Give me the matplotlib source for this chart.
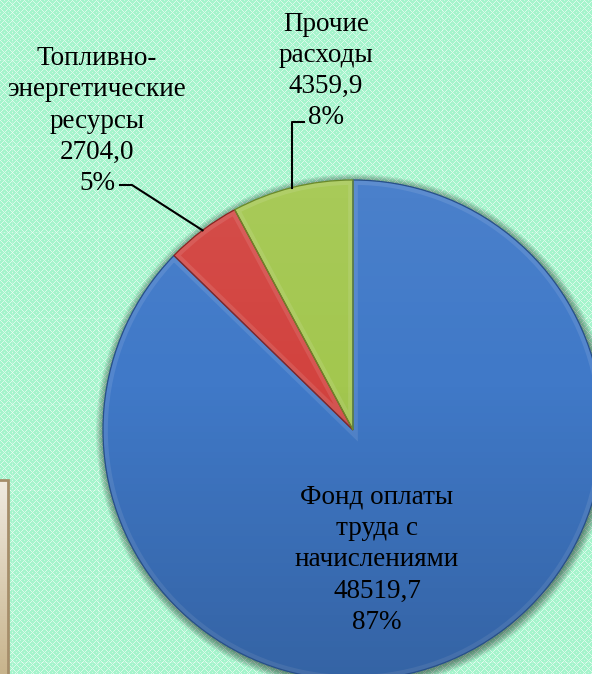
import numpy as np
import matplotlib
matplotlib.use("Agg")
import matplotlib.pyplot as plt
from matplotlib.patches import Circle, Rectangle, Wedge

# Cost structure, thousand roubles
labels = ["Фонд оплаты\nтруда с\nначислениями",
          "Топливно-\nэнергетические\nресурсы",
          "Прочие\nрасходы"]
values = [48519.7, 2704.0, 4359.9]
value_text = ["48519,7", "2704,0", "4359,9"]
colors = ["#4079c8", "#d2433f", "#a3c74f"]
edge_colors = ["#274f8a", "#8a2522", "#6b8a2a"]

W, H = 592, 674
plt.rcParams["font.family"] = ["Liberation Serif", "DejaVu Serif"]

fig = plt.figure(figsize=(W / 100, H / 100), dpi=100)
ax = fig.add_axes([0, 0, 1, 1])

# mint background with a white diagonal lattice
yy, xx = np.mgrid[0:H, 0:W]
d1 = (xx + yy) % 8
d2 = (xx - yy) % 8
lattice = ((d1 == 0) | (d2 == 0)).astype(float) * 0.6
lattice += ((d1 == 4) & (d2 == 4)).astype(float) * 0.4
seams = ((xx % 86 == 12) | (yy % 86 == 60)).astype(float) * 0.15
mix = np.clip(lattice + seams, 0, 1)[..., None]
mint = np.array([165, 244, 204]) / 255
bg = mint * (1 - mix) + mix
ax.imshow(bg, extent=[0, W, 0, H], origin="upper", zorder=0, interpolation="nearest")

# beige panel peeking in at the lower left
grad = np.linspace(0, 1, 200)[:, None, None]
top_c = np.array([240, 234, 224]) / 255
bot_c = np.array([200, 180, 140]) / 255
panel = top_c * (1 - grad) + bot_c * grad
panel = np.repeat(panel, 4, axis=1)
ax.imshow(panel, extent=[-4, 8, 0, H - 480], origin="upper", zorder=1, aspect="auto")
ax.add_patch(Rectangle((-4, -10), 12, H - 480 + 10, fill=False,
                       edgecolor="#a58d6a", lw=2, zorder=2))

cx, cy, r = 353, H - 430, 250

# soft drop shadow under the pie
for i in range(10):
    ax.add_patch(Circle((cx + 1, cy - 2), r + i * 0.9, color="black",
                        alpha=0.05, lw=0, zorder=3))

wedges, _ = ax.pie(values, colors=colors, startangle=90, counterclock=False,
                   center=(cx, cy), radius=r,
                   wedgeprops=dict(linewidth=0, zorder=4))

for w, ec in zip(wedges, edge_colors):
    w.set_zorder(4)
    rim = Wedge(w.center, w.r, w.theta1, w.theta2, facecolor="none",
                edgecolor="white", lw=7, alpha=0.1, zorder=5)
    ax.add_patch(rim)
    rim.set_clip_path(w)
    ax.add_patch(Wedge(w.center, w.r, w.theta1, w.theta2, facecolor="none",
                       edgecolor=ec, lw=0.9, zorder=6))

# light-to-dark shading across the whole pie
shade = np.zeros((256, 2, 4))
t = np.linspace(0, 1, 256)
shade[..., 3] = np.where(t < 0.4, 0.06 * (0.4 - t) / 0.4, 0.18 * (t - 0.4) / 0.6)[:, None]
shade[:, :, :3] = np.where(t < 0.4, 1.0, 0.0)[:, None, None]
img = ax.imshow(shade, extent=[cx - r, cx + r, cy - r, cy + r], origin="upper",
                aspect="auto", zorder=5)
img.set_clip_path(Circle((cx, cy), r, transform=ax.transData))

total = sum(values)
pct = [f"{round(v / total * 100)}%" for v in values]
fs = 19.5
ls = 1.33

# main slice label sits inside the wedge
ax.text(377, H - 560, f"{labels[0]}\n{value_text[0]}\n{pct[0]}", ha="center",
        va="center", fontsize=fs, color="black", linespacing=ls, zorder=7)

# outer labels with leader lines to the slice midpoints
def mid_point(w):
    a = np.deg2rad((w.theta1 + w.theta2) / 2)
    return cx + r * np.cos(a), cy + r * np.sin(a)

ax.text(97, H - 121, f"{labels[1]}\n{value_text[1]}\n{pct[1]}", ha="center",
        va="center", fontsize=fs, color="black", linespacing=ls, zorder=7)
px, py = mid_point(wedges[1])
ax.plot([120, 132, px], [H - 185, H - 185, py], color="black", lw=1.5, zorder=7)

ax.text(326, H - 71, f"{labels[2]}\n{value_text[2]}\n{pct[2]}", ha="center",
        va="center", fontsize=fs, color="black", linespacing=ls, zorder=7)
px, py = mid_point(wedges[2])
ax.plot([304, px, px], [H - 122, H - 122, py], color="black", lw=1.5, zorder=7)

ax.set_xlim(0, W)
ax.set_ylim(0, H)
ax.set_aspect("auto")
ax.axis("off")

fig.savefig("out.png", dpi=100)
